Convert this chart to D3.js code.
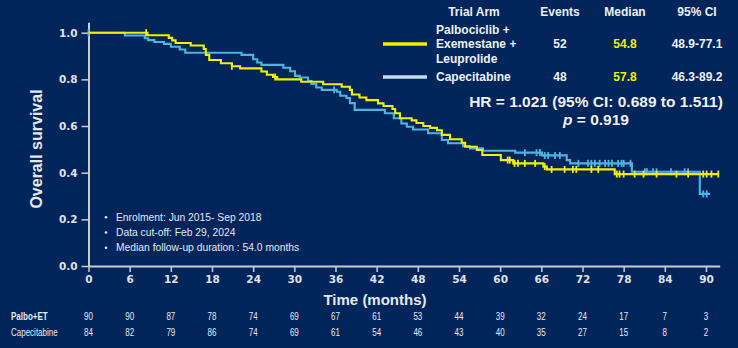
<!DOCTYPE html>
<html>
<head>
<meta charset="utf-8">
<script src="https://cdn.jsdelivr.net/npm/d3@7"></script>
<style>
  html, body { margin: 0; padding: 0; background: #00255a; }
  svg { display: block; font-family: "Liberation Sans", Arial, sans-serif; }
</style>
</head>
<body>
<div id="chart"></div>
<script>
// time axis / risk table
const months = [0, 6, 12, 18, 24, 30, 36, 42, 48, 54, 60, 66, 72, 78, 84, 90];
const palboAtRisk = [90, 90, 87, 78, 74, 69, 67, 61, 53, 44, 39, 32, 24, 17, 7, 3];
const capeAtRisk = [84, 82, 79, 86, 74, 69, 61, 54, 46, 43, 40, 35, 27, 15, 8, 2];
const yTicks = [0, 0.2, 0.4, 0.6, 0.8, 1.0];

// KM steps (time in months, survival after the step)
const palboTimes = [8.6, 11.7, 12.2, 12.7, 14.9, 16.8, 17.1, 17.6, 19.3, 20.9, 22.1, 25.2, 26.0, 26.9, 27.5,
  31.0, 34.2, 36.9, 38.1, 38.4, 39.5, 40.5, 42.2, 43.0, 44.3, 44.7, 45.4, 47.1, 47.8, 48.8, 49.8, 50.8,
  51.5, 52.7, 54.4, 54.9, 56.6, 57.4, 60.1, 61.9, 66.3, 66.8, 76.7];
const palboSurv = [0.989, 0.978, 0.967, 0.956, 0.945, 0.93, 0.905, 0.883, 0.869, 0.856, 0.847, 0.834, 0.82, 0.81, 0.80,
  0.79, 0.779, 0.768, 0.755, 0.735, 0.722, 0.711, 0.697, 0.686, 0.673, 0.655, 0.633, 0.624, 0.613, 0.60, 0.592, 0.582,
  0.562, 0.543, 0.528, 0.511, 0.497, 0.476, 0.454, 0.44, 0.426, 0.414, 0.394];
const palboEnd = 91.8;
const palboCensor = [8.4, 20.9, 27.2, 61.1, 61.4, 62.1, 62.6, 63.6, 65.1, 66.5, 67.5, 69.4, 70.6, 71.1, 73.3, 74.3,
  77.0, 77.4, 78.0, 79.6, 80.9, 82.8, 85.7, 87.4, 89.6, 90.1, 90.8, 91.8];

const capeTimes = [5.3, 8.2, 8.7, 9.6, 11.0, 12.0, 13.3, 14.1, 22.3, 24.0, 24.6, 25.2, 28.4, 29.4, 30.1, 30.8,
  32.0, 32.5, 33.2, 34.0, 36.2, 36.7, 37.6, 38.1, 38.8, 43.2, 44.5, 45.6, 46.4, 47.3, 49.5, 51.5, 52.4,
  54.6, 55.6, 57.5, 62.2, 66.1, 69.7, 70.2, 79.2, 89.1];
const capeSurv = [0.988, 0.976, 0.968, 0.96, 0.952, 0.94, 0.928, 0.914, 0.905, 0.886, 0.872, 0.862, 0.85, 0.835, 0.815, 0.808,
  0.793, 0.78, 0.765, 0.755, 0.747, 0.73, 0.72, 0.698, 0.669, 0.655, 0.633, 0.611, 0.597, 0.585, 0.569, 0.54, 0.526,
  0.514, 0.504, 0.494, 0.486, 0.474, 0.454, 0.44, 0.404, 0.309];
const capeEnd = 90.6;
const capeCensor = [0, 35.8, 63.6, 65.3, 65.8, 66.5, 67.0, 68.0, 68.7, 71.4, 72.8, 73.3, 73.8, 74.5, 75.3, 75.8,
  76.3, 77.2, 77.7, 78.0, 79.0, 81.1, 81.4, 82.3, 82.8, 84.9, 86.9, 87.4, 89.6, 90.1];

const notes = ["Enrolment: Jun 2015- Sep 2018", "Data cut-off: Feb 29, 2024", "Median follow-up duration : 54.0 months"];
const armNames = [["Palbociclib +", "Exemestane +", "Leuprolide"], ["Capecitabine"]];
const armEvents = ["52", "48"];
const armMedian = ["54.8", "57.8"];
const armCI = ["48.9-77.1", "46.3-89.2"];

const width = 738, height = 348;
const yellow = "#f2f000", blue = "#4bb4e0", axisCol = "#c9cdd6", textCol = "#e6e8ee";

const svg = d3.select("#chart").append("svg").attr("width", width).attr("height", height);
svg.append("rect").attr("width", width).attr("height", height).attr("fill", "#00255a");

const x = d3.scaleLinear().domain([0, 92]).range([88.5, 719.7]);
const y = d3.scaleLinear().domain([0, 1.045]).range([266, 22.2]);

// axes
const yAxis = svg.append("g").attr("transform", "translate(88.5,0)")
  .call(d3.axisLeft(y).tickValues(yTicks).tickFormat(d3.format(".1f")).tickSize(7).tickSizeOuter(0));
const xAxis = svg.append("g").attr("transform", "translate(0,266)")
  .call(d3.axisBottom(x).tickValues(months).tickSize(6).tickSizeOuter(0));
[yAxis, xAxis].forEach(g => {
  g.select(".domain").attr("stroke", axisCol).attr("stroke-width", 2);
  g.selectAll(".tick line").attr("stroke", axisCol).attr("stroke-width", 1.5);
  g.selectAll(".tick text").attr("fill", "#dfe2ea").attr("font-size", 10.5).attr("font-weight", "bold")
    .attr("font-family", "DejaVu Sans, Verdana, sans-serif");
});
yAxis.selectAll(".tick text").attr("x", -11);
xAxis.selectAll(".tick text").attr("y", 10);

svg.append("text").attr("transform", "translate(42,149) rotate(-90)")
  .attr("text-anchor", "middle").attr("fill", textCol).attr("font-size", 16).attr("font-weight", "bold")
  .text("Overall survival");
svg.append("text").attr("x", 375).attr("y", 305)
  .attr("text-anchor", "middle").attr("fill", textCol).attr("font-size", 15).attr("font-weight", "bold")
  .text("Time (months)");

// curves
function stepPoints(times, surv, end) {
  const pts = [[0, 1]];
  times.forEach((t, i) => pts.push([t, surv[i]]));
  pts.push([end, surv[surv.length - 1]]);
  return pts;
}
function survAt(times, surv, t) {
  let s = 1;
  times.forEach((tt, i) => { if (tt <= t) s = surv[i]; });
  return s;
}
const line = d3.line().x(d => x(d[0])).y(d => y(d[1])).curve(d3.curveStepAfter);

const arms = [
  { times: capeTimes, surv: capeSurv, end: capeEnd, censor: capeCensor, color: blue },
  { times: palboTimes, surv: palboSurv, end: palboEnd, censor: palboCensor, color: yellow }
];
arms.forEach(a => {
  svg.append("path").datum(stepPoints(a.times, a.surv, a.end))
    .attr("d", line).attr("fill", "none").attr("stroke", a.color).attr("stroke-width", 2.1);
  svg.append("g").selectAll("line").data(a.censor).join("line")
    .attr("x1", d => x(d)).attr("x2", d => x(d))
    .attr("y1", d => y(survAt(a.times, a.surv, d)) - 3.5)
    .attr("y2", d => y(survAt(a.times, a.surv, d)) + 3.5)
    .attr("stroke", a.color).attr("stroke-width", 1.8);
});

// notes
const notesG = svg.append("g");
notes.forEach((n, i) => {
  notesG.append("circle").attr("cx", 106).attr("cy", 217.3 + i * 15.2).attr("r", 1.3).attr("fill", textCol);
  notesG.append("text").attr("x", 116).attr("y", 220.9 + i * 15.2)
    .attr("fill", textCol).attr("font-size", 10.3).text(n);
});

// legend table
const leg = svg.append("g").attr("font-weight", "bold").attr("fill", "#eef0f4").attr("font-size", 12);
const headers = [["Trial Arm", 474], ["Events", 560], ["Median", 625], ["95% CI", 697]];
headers.forEach(h => leg.append("text").attr("x", h[1]).attr("y", 16).attr("text-anchor", "middle").text(h[0]));
const rowY = [44, 77];
const legLine = [yellow, "#c4dcf0"];
armNames.forEach((names, i) => {
  leg.append("line").attr("x1", 383).attr("x2", 427).attr("y1", rowY[i]).attr("y2", rowY[i])
    .attr("stroke", legLine[i]).attr("stroke-width", 3.5);
  names.forEach((n, j) => leg.append("text").attr("x", 436)
    .attr("y", rowY[i] + 4.3 + (j - (names.length - 1) / 2) * 14.7).text(n));
  leg.append("text").attr("x", 560).attr("y", rowY[i] + 4.3).attr("text-anchor", "middle").text(armEvents[i]);
  leg.append("text").attr("x", 625).attr("y", rowY[i] + 4.3).attr("text-anchor", "middle")
    .attr("fill", yellow).text(armMedian[i]);
  leg.append("text").attr("x", 697).attr("y", rowY[i] + 4.3).attr("text-anchor", "middle").text(armCI[i]);
});
leg.append("text").attr("x", 596).attr("y", 107).attr("text-anchor", "middle").attr("font-size", 15.5)
  .text("HR = 1.021 (95% CI: 0.689 to 1.511)");
const pTxt = leg.append("text").attr("x", 596).attr("y", 125).attr("text-anchor", "middle").attr("font-size", 15.5);
pTxt.append("tspan").attr("font-style", "italic").text("p");
pTxt.append("tspan").text(" = 0.919");

// number at risk (narrow look: squeeze horizontally)
const risk = svg.append("g").attr("fill", "#e8eaf0").attr("font-size", 10);
const squeeze = "scale(0.8,1)";
risk.append("text").attr("transform", `translate(11,320) ${squeeze}`).attr("font-weight", "bold").text("Palbo+ET");
risk.append("text").attr("transform", `translate(11,336) ${squeeze}`).text("Capecitabine");
risk.append("g").selectAll("text").data(palboAtRisk).join("text")
  .attr("transform", (d, i) => `translate(${x(months[i])},320) ${squeeze}`)
  .attr("text-anchor", "middle").text(d => d);
risk.append("g").selectAll("text").data(capeAtRisk).join("text")
  .attr("transform", (d, i) => `translate(${x(months[i])},336) ${squeeze}`)
  .attr("text-anchor", "middle").text(d => d);
</script>
</body>
</html>
